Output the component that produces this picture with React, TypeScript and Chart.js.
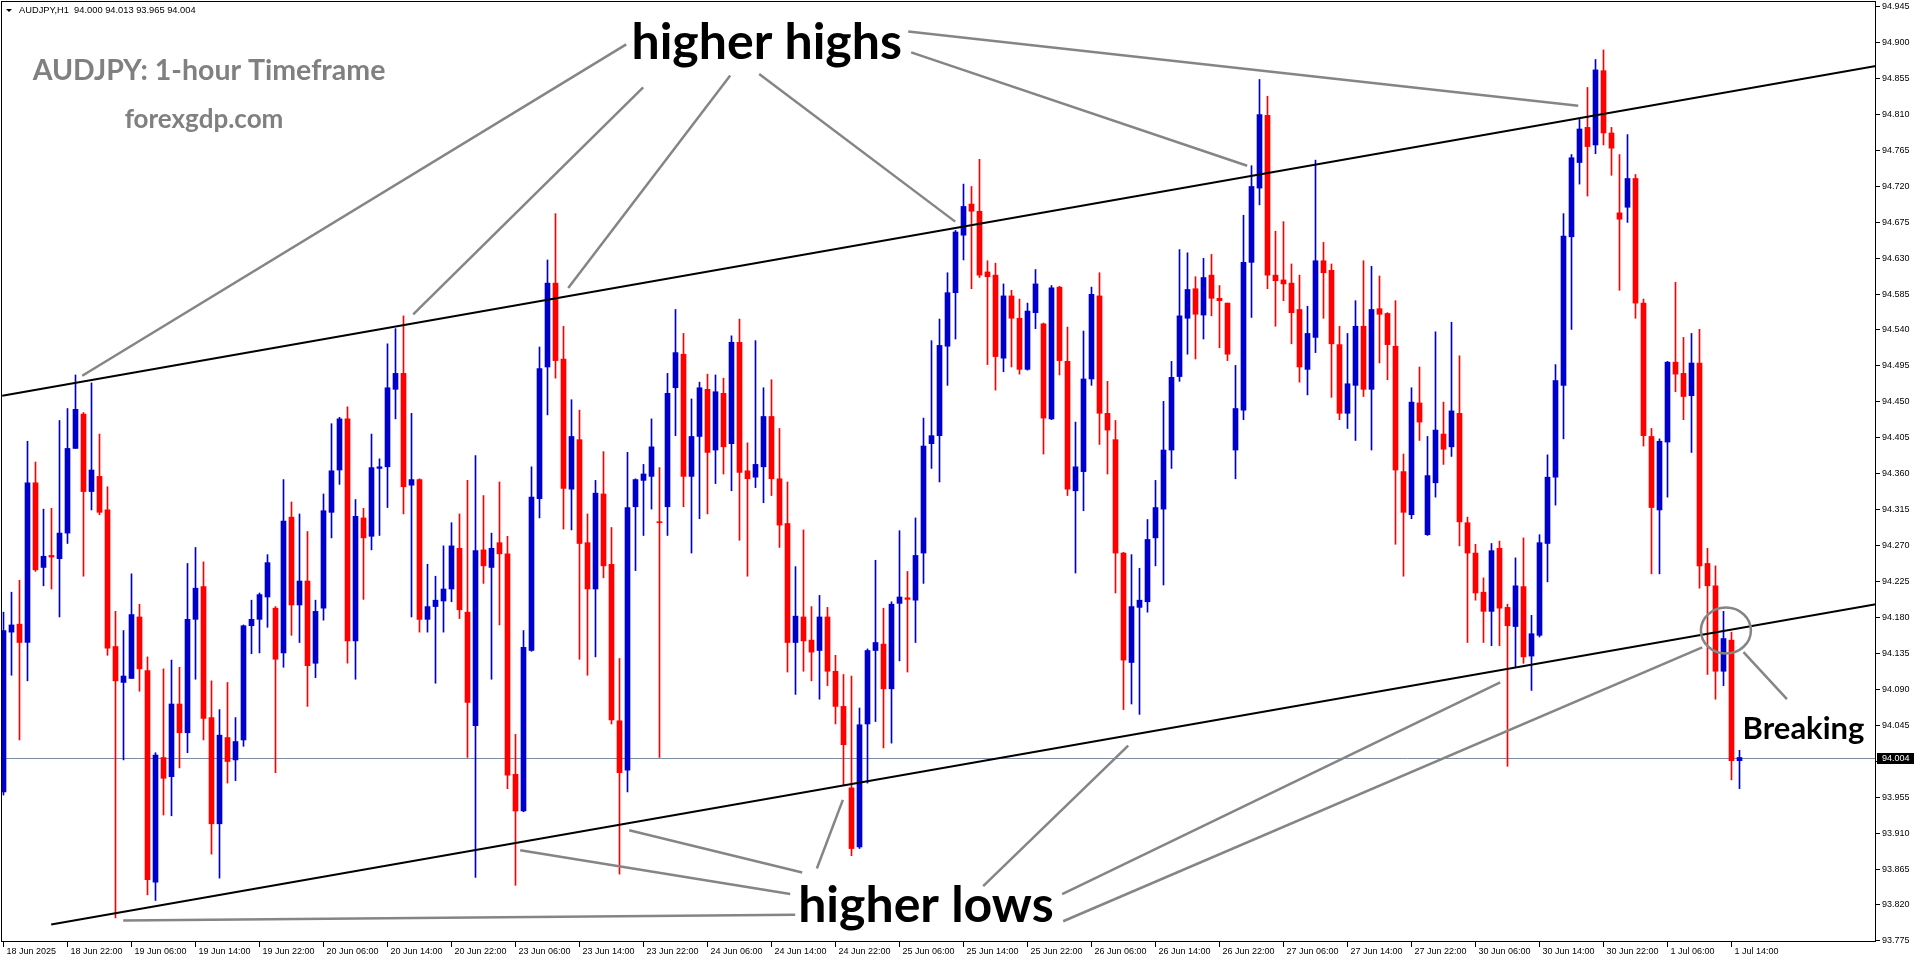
import React, { useEffect, useRef } from "react";
import { Chart, registerables } from "chart.js";

Chart.register(...registerables);

const SYMBOL = "AUDJPY,H1";

const opens = [
  93.961, 94.161, 94.171, 94.148, 94.348, 94.242, 94.257, 94.253, 94.285, 94.391,
  94.434, 94.337, 94.356, 94.314, 94.143, 94.098, 94.103, 94.180, 94.113, 93.848,
  94.004, 93.980, 94.071, 94.035, 94.177, 94.218, 94.054, 93.921, 94.029, 94.001,
  94.026, 94.169, 94.177, 94.205, 94.191, 94.135, 94.305, 94.195, 94.225, 94.122,
  94.191, 94.311, 94.364, 94.428, 94.150, 94.304, 94.281, 94.366, 94.368, 94.465,
  94.485, 94.345, 94.352, 94.177, 94.193, 94.200, 94.215, 94.266, 94.186, 94.044,
  94.264, 94.242, 94.273, 94.259, 93.983, 93.937, 94.138, 94.328, 94.493, 94.598,
  94.503, 94.340, 94.402, 94.273, 94.215, 94.334, 94.246, 94.050, 93.988, 94.318,
  94.351, 94.356, 94.299, 94.318, 94.467, 94.509, 94.356, 94.406, 94.465, 94.389,
  94.460, 94.397, 94.524, 94.363, 94.355, 94.368, 94.431, 94.353, 94.297, 94.148,
  94.180, 94.151, 94.138, 94.180, 94.112, 94.068, 93.966, 93.892, 94.046, 94.138,
  94.146, 94.090, 94.197, 94.204, 94.201, 94.260, 94.397, 94.407, 94.519, 94.586,
  94.658, 94.697, 94.688, 94.612, 94.608, 94.504, 94.582, 94.554, 94.490, 94.561,
  94.547, 94.428, 94.593, 94.500, 94.338, 94.362, 94.478, 94.582, 94.435, 94.402,
  94.260, 94.123, 94.192, 94.199, 94.279, 94.315, 94.389, 94.481, 94.554, 94.591,
  94.558, 94.608, 94.579, 94.573, 94.389, 94.439, 94.624, 94.717, 94.808, 94.608,
  94.602, 94.598, 94.565, 94.490, 94.530, 94.626, 94.614, 94.521, 94.435, 94.470,
  94.544, 94.465, 94.566, 94.560, 94.519, 94.362, 94.308, 94.448, 94.283, 94.348,
  94.409, 94.393, 94.435, 94.298, 94.260, 94.211, 94.187, 94.266, 94.192, 94.168,
  94.218, 94.131, 94.157, 94.272, 94.355, 94.470, 94.656, 94.749, 94.793, 94.771,
  94.864, 94.786, 94.686, 94.693, 94.729, 94.573, 94.406, 94.314, 94.399, 94.499,
  94.485, 94.457, 94.498, 94.247, 94.219, 94.112, 94.151, 94.000,
];

const highs = [
  94.186, 94.211, 94.226, 94.400, 94.374, 94.315, 94.316, 94.426, 94.441, 94.483,
  94.436, 94.473, 94.409, 94.343, 94.187, 94.163, 94.234, 94.196, 94.130, 94.010,
  94.115, 94.126, 94.117, 94.247, 94.267, 94.249, 94.100, 94.064, 94.098, 94.054,
  94.170, 94.201, 94.210, 94.258, 94.193, 94.352, 94.324, 94.309, 94.287, 94.201,
  94.334, 94.422, 94.430, 94.443, 94.327, 94.316, 94.409, 94.378, 94.522, 94.541,
  94.557, 94.435, 94.353, 94.246, 94.231, 94.269, 94.298, 94.309, 94.351, 94.382,
  94.332, 94.285, 94.349, 94.281, 94.033, 94.163, 94.368, 94.518, 94.627, 94.685,
  94.544, 94.452, 94.439, 94.309, 94.351, 94.387, 94.292, 94.128, 94.386, 94.353,
  94.371, 94.428, 94.367, 94.485, 94.565, 94.535, 94.453, 94.474, 94.484, 94.483,
  94.479, 94.532, 94.553, 94.398, 94.526, 94.467, 94.477, 94.416, 94.349, 94.243,
  94.289, 94.193, 94.207, 94.192, 94.132, 94.108, 94.106, 94.066, 94.140, 94.251,
  94.191, 94.199, 94.288, 94.237, 94.304, 94.429, 94.526, 94.553, 94.611, 94.664,
  94.722, 94.719, 94.753, 94.626, 94.623, 94.597, 94.589, 94.578, 94.573, 94.615,
  94.548, 94.595, 94.594, 94.543, 94.424, 94.538, 94.593, 94.611, 94.475, 94.426,
  94.261, 94.258, 94.241, 94.302, 94.351, 94.450, 94.500, 94.640, 94.636, 94.606,
  94.629, 94.634, 94.595, 94.573, 94.495, 94.683, 94.745, 94.853, 94.832, 94.663,
  94.675, 94.622, 94.608, 94.569, 94.752, 94.649, 94.622, 94.544, 94.535, 94.576,
  94.626, 94.619, 94.607, 94.561, 94.576, 94.384, 94.467, 94.493, 94.406, 94.537,
  94.449, 94.549, 94.507, 94.305, 94.271, 94.229, 94.272, 94.275, 94.196, 94.254,
  94.279, 94.182, 94.283, 94.383, 94.496, 94.685, 94.759, 94.803, 94.843, 94.878,
  94.890, 94.793, 94.759, 94.784, 94.734, 94.578, 94.416, 94.403, 94.500, 94.599,
  94.530, 94.535, 94.540, 94.266, 94.244, 94.187, 94.161, 94.013,
];

const lows = [
  93.957, 94.107, 94.026, 94.100, 94.237, 94.219, 94.215, 94.180, 94.272, 94.391,
  94.231, 94.314, 94.308, 94.132, 93.803, 94.001, 94.103, 94.087, 93.832, 93.825,
  93.932, 93.931, 93.991, 94.010, 94.102, 94.026, 93.883, 93.853, 93.972, 93.975,
  94.018, 94.134, 94.135, 94.167, 93.985, 94.117, 94.157, 94.148, 94.068, 94.104,
  94.176, 94.279, 94.346, 94.122, 94.102, 94.202, 94.264, 94.282, 94.317, 94.428,
  94.309, 94.180, 94.161, 94.161, 94.097, 94.161, 94.199, 94.178, 94.004, 93.854,
  94.222, 94.102, 94.170, 93.965, 93.844, 93.936, 94.137, 94.304, 94.433, 94.479,
  94.290, 94.289, 94.127, 94.107, 94.130, 94.229, 94.046, 93.858, 93.961, 94.238,
  94.282, 94.315, 94.004, 94.282, 94.407, 94.318, 94.260, 94.303, 94.309, 94.347,
  94.359, 94.338, 94.276, 94.231, 94.342, 94.323, 94.332, 94.267, 94.111, 94.083,
  94.112, 94.100, 94.077, 94.094, 94.046, 93.969, 93.881, 93.890, 93.972, 94.049,
  94.016, 94.022, 94.125, 94.111, 94.148, 94.222, 94.366, 94.349, 94.470, 94.528,
  94.627, 94.591, 94.605, 94.496, 94.464, 94.487, 94.493, 94.484, 94.489, 94.541,
  94.384, 94.427, 94.483, 94.332, 94.235, 94.313, 94.470, 94.396, 94.359, 94.210,
  94.064, 94.071, 94.058, 94.186, 94.244, 94.220, 94.366, 94.475, 94.509, 94.503,
  94.528, 94.557, 94.517, 94.501, 94.353, 94.427, 94.555, 94.696, 94.591, 94.544,
  94.576, 94.522, 94.474, 94.458, 94.511, 94.554, 94.455, 94.427, 94.416, 94.401,
  94.456, 94.389, 94.498, 94.477, 94.271, 94.231, 94.303, 94.401, 94.282, 94.330,
  94.371, 94.381, 94.269, 94.148, 94.201, 94.148, 94.144, 94.144, 93.993, 94.117,
  94.122, 94.088, 94.155, 94.224, 94.320, 94.403, 94.540, 94.722, 94.707, 94.760,
  94.771, 94.733, 94.589, 94.674, 94.554, 94.394, 94.234, 94.234, 94.330, 94.462,
  94.427, 94.386, 94.216, 94.108, 94.077, 94.094, 93.976, 93.965,
];

const closes = [
  94.163, 94.170, 94.148, 94.348, 94.239, 94.256, 94.255, 94.285, 94.391, 94.440,
  94.337, 94.364, 94.311, 94.141, 94.100, 94.106, 94.183, 94.115, 93.851, 94.007,
  93.978, 94.071, 94.035, 94.177, 94.216, 94.053, 93.921, 94.032, 93.999, 94.024,
  94.169, 94.177, 94.208, 94.248, 94.127, 94.300, 94.195, 94.225, 94.119, 94.187,
  94.313, 94.363, 94.428, 94.150, 94.306, 94.279, 94.367, 94.368, 94.467, 94.485,
  94.343, 94.352, 94.177, 94.193, 94.201, 94.215, 94.269, 94.189, 94.073, 94.263,
  94.244, 94.266, 94.259, 93.982, 93.937, 94.142, 94.330, 94.491, 94.598, 94.501,
  94.341, 94.406, 94.272, 94.215, 94.335, 94.244, 94.051, 93.985, 94.317, 94.352,
  94.359, 94.393, 94.298, 94.460, 94.511, 94.356, 94.406, 94.467, 94.386, 94.462,
  94.393, 94.524, 94.361, 94.353, 94.371, 94.431, 94.353, 94.295, 94.148, 94.181,
  94.150, 94.136, 94.180, 94.112, 94.068, 94.020, 93.890, 94.045, 94.138, 94.148,
  94.090, 94.196, 94.205, 94.202, 94.257, 94.394, 94.407, 94.520, 94.586, 94.662,
  94.694, 94.688, 94.608, 94.606, 94.506, 94.582, 94.554, 94.490, 94.563, 94.597,
  94.429, 94.592, 94.501, 94.340, 94.368, 94.478, 94.584, 94.435, 94.414, 94.260,
  94.126, 94.193, 94.201, 94.277, 94.317, 94.389, 94.480, 94.557, 94.590, 94.559,
  94.605, 94.579, 94.576, 94.509, 94.441, 94.624, 94.719, 94.809, 94.608, 94.601,
  94.597, 94.561, 94.493, 94.535, 94.626, 94.611, 94.522, 94.435, 94.472, 94.544,
  94.465, 94.565, 94.559, 94.521, 94.364, 94.311, 94.449, 94.424, 94.357, 94.414,
  94.390, 94.438, 94.299, 94.260, 94.210, 94.187, 94.263, 94.191, 94.169, 94.219,
  94.130, 94.159, 94.273, 94.355, 94.476, 94.657, 94.755, 94.791, 94.769, 94.865,
  94.786, 94.767, 94.678, 94.729, 94.573, 94.407, 94.317, 94.400, 94.499, 94.484,
  94.456, 94.498, 94.244, 94.219, 94.112, 94.153, 94.000, 94.004,
];

const timeTickBars = [0, 8, 16, 24, 32, 40, 48, 56, 64, 72, 80, 88, 96, 104, 112, 120, 128, 136, 144, 152, 160, 168, 176, 184, 192, 200, 208, 216];
const timeTickLabels = [
  "18 Jun 2025", "18 Jun 22:00", "19 Jun 06:00", "19 Jun 14:00", "19 Jun 22:00", "20 Jun 06:00", "20 Jun 14:00",
  "20 Jun 22:00", "23 Jun 06:00", "23 Jun 14:00", "23 Jun 22:00", "24 Jun 06:00", "24 Jun 14:00", "24 Jun 22:00",
  "25 Jun 06:00", "25 Jun 14:00", "25 Jun 22:00", "26 Jun 06:00", "26 Jun 14:00", "26 Jun 22:00", "27 Jun 06:00",
  "27 Jun 14:00", "27 Jun 22:00", "30 Jun 06:00", "30 Jun 14:00", "30 Jun 22:00", "1 Jul 06:00", "1 Jul 14:00",
];

const priceTicks = [
  94.945, 94.9, 94.855, 94.81, 94.765, 94.72, 94.675, 94.63, 94.585, 94.54, 94.495, 94.45, 94.405, 94.36,
  94.315, 94.27, 94.225, 94.18, 94.135, 94.09, 94.045, 94.0, 93.955, 93.91, 93.865, 93.82, 93.775,
];

// channel lines (bar index, price)
const channelTop = [{ x: -0.16, y: 94.457 }, { x: 234.05, y: 94.87 }];
const channelBottom = [{ x: 5.96, y: 93.795 }, { x: 234.05, y: 94.196 }];

// pointer lines from the labels to the swing points: [bar1, price1, bar2, price2]
const pointerLines = [
  [9.84, 94.482, 77.84, 94.897],
  [51.21, 94.559, 79.96, 94.843],
  [70.59, 94.592, 90.84, 94.858],
  [94.46, 94.86, 118.96, 94.675],
  [113.09, 94.913, 196.84, 94.82],
  [113.46, 94.887, 155.46, 94.745],
  [14.96, 93.8, 98.96, 93.807],
  [64.59, 93.888, 98.34, 93.833],
  [78.21, 93.913, 99.84, 93.86],
  [101.67, 93.865, 104.92, 93.951],
  [122.46, 93.843, 140.59, 94.019],
  [132.34, 93.833, 187.09, 94.098],
  [132.46, 93.799, 212.34, 94.142],
  [217.5, 94.136, 222.93, 94.077],
];

const noteTexts = ["higher highs", "higher lows", "Breaking"];
const noteBars = [95.4, 115.3, 225.0];
const notePrices = [94.879, 93.798, 94.027];
const noteSizes = [50, 50, 31];

const breakCircle = { x: 215.3, y: 94.163 };

const BULL = "#0000CC";
const BEAR = "#FF0000";
const GREY = "#858585";

const overlay = {
  id: "overlay",
  beforeDatasetsDraw(chart: any) {
    const { ctx, chartArea: ca, scales } = chart;
    const y = Math.round(scales.y.getPixelForValue(closes[closes.length - 1])) + 0.5;
    ctx.save();
    ctx.strokeStyle = "#7B8DA3";
    ctx.lineWidth = 1;
    ctx.beginPath();
    ctx.moveTo(ca.left, y);
    ctx.lineTo(ca.right, y);
    ctx.stroke();
    ctx.restore();
  },
  afterDatasetsDraw(chart: any) {
    const { ctx, chartArea: ca, scales } = chart;
    const xs = scales.x;
    const ys = scales.y;
    ctx.save();

    // breaking circle
    ctx.strokeStyle = GREY;
    ctx.lineWidth = 2.5;
    ctx.beginPath();
    ctx.ellipse(xs.getPixelForValue(breakCircle.x), ys.getPixelForValue(breakCircle.y), 25, 23, 0, 0, Math.PI * 2);
    ctx.stroke();

    // notes
    ctx.fillStyle = "#000";
    ctx.textAlign = "center";
    ctx.textBaseline = "alphabetic";
    noteTexts.forEach((t, i) => {
      ctx.font = `bold ${noteSizes[i]}px Lato`;
      ctx.fillText(t, xs.getPixelForValue(noteBars[i]), ys.getPixelForValue(notePrices[i]));
    });

    // title
    ctx.fillStyle = "#808080";
    ctx.font = "bold 28.5px Lato";
    ctx.fillText("AUDJPY: 1-hour Timeframe", 209, 80);
    ctx.font = "bold 26px Lato";
    ctx.fillText("forexgdp.com", 204, 128);

    // frame
    ctx.strokeStyle = "#000";
    ctx.lineWidth = 1;
    ctx.strokeRect(ca.left - 0.5, ca.top - 0.5, ca.right - ca.left, ca.bottom - ca.top);

    // header
    const n = closes.length - 1;
    ctx.fillStyle = "#000";
    ctx.beginPath();
    ctx.moveTo(6, 9);
    ctx.lineTo(12, 9);
    ctx.lineTo(9, 12);
    ctx.closePath();
    ctx.fill();
    ctx.font = "9.3px 'Liberation Sans'";
    ctx.textAlign = "left";
    ctx.textBaseline = "middle";
    ctx.fillText(
      `${SYMBOL}  ${opens[n].toFixed(3)} ${highs[n].toFixed(3)} ${lows[n].toFixed(3)} ${closes[n].toFixed(3)}`,
      19,
      10.5
    );

    // price axis
    ctx.font = "9px 'Liberation Sans'";
    priceTicks.forEach((v) => {
      const y = Math.round(ys.getPixelForValue(v)) + 0.5;
      ctx.beginPath();
      ctx.moveTo(ca.right, y);
      ctx.lineTo(ca.right + 4, y);
      ctx.stroke();
      ctx.fillText(v.toFixed(3), ca.right + 6, y);
    });

    // current price tag
    const py = Math.round(ys.getPixelForValue(closes[n]));
    ctx.fillStyle = "#000";
    ctx.fillRect(ca.right + 1, py - 5, 37, 11);
    ctx.fillStyle = "#fff";
    ctx.fillText(closes[n].toFixed(3), ca.right + 6, py + 0.5);

    // time axis
    ctx.fillStyle = "#000";
    timeTickBars.forEach((b, i) => {
      const x = Math.floor(xs.getPixelForValue(b)) + 0.5;
      ctx.beginPath();
      ctx.moveTo(x, ca.bottom);
      ctx.lineTo(x, ca.bottom + 5);
      ctx.stroke();
      ctx.fillText(timeTickLabels[i], x + 3, ca.bottom + 10);
    });

    ctx.restore();
  },
};

export default function App() {
  const ref = useRef<HTMLCanvasElement | null>(null);

  useEffect(() => {
    if (!ref.current) return;
    const colors = closes.map((c, i) => (c >= opens[i] ? BULL : BEAR));
    const lineDs = (pts: { x: number; y: number }[], color: string, width: number) => ({
      type: "line" as const,
      data: pts,
      borderColor: color,
      borderWidth: width,
      pointRadius: 0,
      tension: 0,
      fill: false,
      order: 0,
    });
    const datasets: any[] = [
      {
        type: "bar",
        data: lows.map((l, i) => ({ x: i, y: [l, highs[i]] })),
        backgroundColor: colors,
        barThickness: 1,
        grouped: false,
        order: 3,
      },
      {
        type: "bar",
        data: opens.map((o, i) => ({ x: i, y: [o, closes[i]] })),
        backgroundColor: colors,
        barThickness: 5,
        minBarLength: 1,
        grouped: false,
        order: 2,
      },
      lineDs(channelTop, "#000", 2),
      lineDs(channelBottom, "#000", 2),
      ...pointerLines.map((p) =>
        lineDs([{ x: p[0], y: p[1] }, { x: p[2], y: p[3] }], GREY, 2.5)
      ),
    ];
    const chart = new Chart(ref.current, {
      type: "bar",
      data: { datasets },
      options: {
        animation: false,
        responsive: false,
        events: [],
        layout: { padding: { left: 2, top: 2, right: 40, bottom: 22 } },
        plugins: { legend: { display: false }, tooltip: { enabled: false }, title: { display: false } },
        scales: {
          x: { type: "linear", display: false, offset: false, min: -0.1875, max: -0.1875 + 1874 / 8 },
          y: { type: "linear", display: false, min: 93.773, max: 94.95 },
        },
      },
      plugins: [overlay],
    });
    return () => chart.destroy();
  }, []);

  return (
    <div style={{ position: "absolute", left: 0, top: 0, width: 1916, height: 964, background: "#fff" }}>
      <canvas ref={ref} width={1916} height={964} style={{ display: "block" }} />
    </div>
  );
}
